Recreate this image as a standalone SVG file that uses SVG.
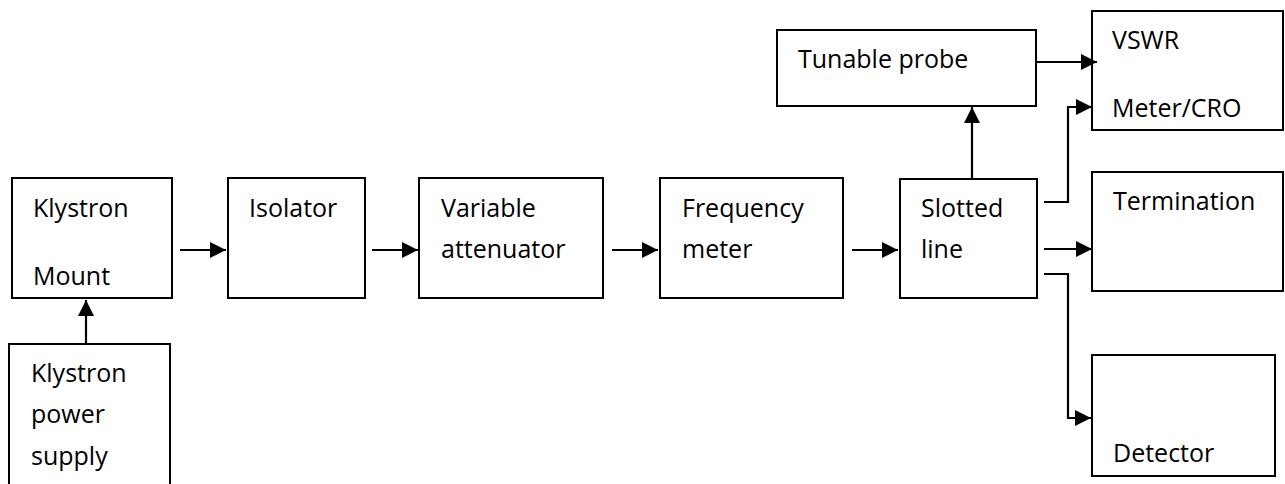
<svg xmlns="http://www.w3.org/2000/svg" width="1285" height="484" viewBox="0 0 1285 484">
<style>
.box{fill:#fff;stroke:#000;stroke-width:2}
.lbl{font-family:"Open Sans","Liberation Sans",sans-serif;font-size:25px;fill:#000}
.c{fill:none;stroke:#000;stroke-width:2.2}
</style>
<defs>
<marker id="ah" markerUnits="userSpaceOnUse" markerWidth="17" markerHeight="16" refX="16" refY="8" orient="auto">
<path d="M0,0 L16,8 L0,16 Z" fill="#000"/>
</marker>
</defs>
<rect width="1285" height="484" fill="#fff"/>
<g id="klystron-mount"><rect class="box" x="12" y="178" width="160" height="120"/><text class="lbl" x="33" y="217">Klystron</text><text class="lbl" x="33" y="285">Mount</text></g>
<g id="power-supply"><rect class="box" x="9" y="344" width="161" height="150"/><text class="lbl" x="31" y="382">Klystron</text><text class="lbl" x="31" y="423">power</text><text class="lbl" x="31" y="465">supply</text></g>
<g id="isolator"><rect class="box" x="228" y="178" width="137" height="120"/><text class="lbl" x="249" y="217">Isolator</text></g>
<g id="attenuator"><rect class="box" x="419" y="178" width="184" height="120"/><text class="lbl" x="441" y="217">Variable</text><text class="lbl" x="441" y="258">attenuator</text></g>
<g id="frequency-meter"><rect class="box" x="660" y="178" width="183" height="120"/><text class="lbl" x="682" y="217">Frequency</text><text class="lbl" x="682" y="258">meter</text></g>
<g id="slotted-line"><rect class="box" x="900" y="179" width="137" height="119"/><text class="lbl" x="921" y="217">Slotted</text><text class="lbl" x="921" y="258">line</text></g>
<g id="tunable-probe"><rect class="box" x="777" y="30" width="259" height="76"/><text class="lbl" x="798" y="68">Tunable probe</text></g>
<g id="vswr"><rect class="box" x="1092" y="11" width="191" height="119"/><text class="lbl" x="1112" y="49">VSWR</text><text class="lbl" x="1112" y="117">Meter/CRO</text></g>
<g id="termination"><rect class="box" x="1092" y="172" width="191" height="119"/><text class="lbl" x="1113" y="210">Termination</text></g>
<g id="detector"><rect class="box" x="1092" y="355" width="183" height="121"/><text class="lbl" x="1113" y="462">Detector</text></g>
<g id="connectors">
<path class="c" d="M86,344 V300" marker-end="url(#ah)"/>
<path class="c" d="M180,250 H226" marker-end="url(#ah)"/>
<path class="c" d="M372,250 H418" marker-end="url(#ah)"/>
<path class="c" d="M612,250 H658" marker-end="url(#ah)"/>
<path class="c" d="M852,250 H898" marker-end="url(#ah)"/>
<path class="c" d="M972,179 V107" marker-end="url(#ah)"/>
<path class="c" d="M1037,62 H1097" marker-end="url(#ah)"/>
<path class="c" d="M1044,202 H1068 V107 H1092" marker-end="url(#ah)"/>
<path class="c" d="M1044,249 H1092" marker-end="url(#ah)"/>
<path class="c" d="M1044,274 H1068 V418 H1091" marker-end="url(#ah)"/>
</g>
</svg>
